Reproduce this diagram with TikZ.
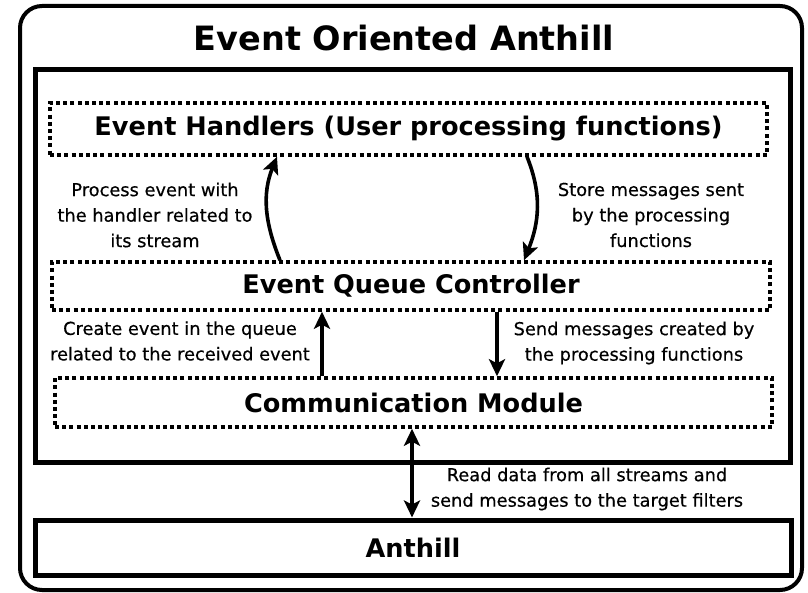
\documentclass[tikz,border=0pt]{standalone}
\usepackage{fontspec}
\setmainfont{DejaVu Sans}
\newfontfamily\lblfont[FakeBold=0.5]{DejaVu Sans}
\usetikzlibrary{arrows.meta,calc}
\begin{document}
\begin{tikzpicture}[x=1pt,y=-1pt,
  solidbox/.style={draw,line width=5pt,rectangle,inner sep=0pt},
  dotbox/.style={draw,line width=3.5pt,dash pattern=on 4pt off 3.2pt,rectangle,inner sep=0pt},
  boxtext/.style={font=\fontsize{25.6}{30}\selectfont\bfseries},
  lbl/.style={font=\lblfont\fontsize{17.8}{25.5}\selectfont,align=center,inner sep=0pt},
  tip/.style={},
  arr/.style={line width=3.6pt,-{Stealth[length=17pt,width=16pt,inset=4pt]}},
  darr/.style={line width=3.6pt,{Stealth[length=17pt,width=16pt,inset=4pt]}-{Stealth[length=17pt,width=16pt,inset=4pt]}}]
\useasboundingbox (0,0) rectangle (808,593);
\draw[line width=4pt,rounded corners=22pt] (20,6) rectangle (802,590);
\node[font=\fontsize{33.5}{38}\selectfont\bfseries] (title) at (404,38) {Event Oriented Anthill};
\node[solidbox,minimum width=755pt,minimum height=392pt] (inner) at (413,266) {};
\node[dotbox,boxtext,minimum width=717pt,minimum height=52pt] (handlers) at (408.5,129) {Event Handlers (User processing functions)};
\node[dotbox,boxtext,minimum width=718pt,minimum height=48pt] (queue) at (411,286) {Event Queue Controller};
\node[dotbox,boxtext,minimum width=717pt,minimum height=49pt] (comm) at (413.5,402.5) {Communication Module};
\node[solidbox,boxtext,minimum width=756pt,minimum height=55pt] (anthill) at (413,547.5) {Anthill};
% x positions
\coordinate (xa) at (280,0);
\coordinate (xb) at (277,0);
\coordinate (xc) at (527,0);
\coordinate (xd) at (524,0);
\coordinate (xe) at (322,0);
\coordinate (xf) at (497,0);
\coordinate (xg) at (412,0);
\draw[arr] (queue.north -| xa) to[out=112,in=-112] (handlers.south -| xb);
\draw[arr] (handlers.south -| xc) to[out=-68,in=68] (queue.north -| xd);
\draw[arr] (comm.north -| xe) -- (queue.south -| xe);
\draw[arr] (queue.south -| xf) -- (comm.north -| xf);
\draw[darr] (comm.south -| xg) -- (anthill.north -| xg);
\node[lbl] (l1) at (155,215) {Process event with\\the handler related to\\its stream};
\node[lbl] (l2) at (651,215) {Store messages sent\\by the processing\\functions};
\node[lbl] (l3) at (180,341) {Create event in the queue\\related to the received event};
\node[lbl] (l4) at (634,343) {Send messages created by\\the processing functions};
\node[lbl] (l5) at (587,489) {Read data from all streams and\\send messages to the target filters};
\end{tikzpicture}
\end{document}
